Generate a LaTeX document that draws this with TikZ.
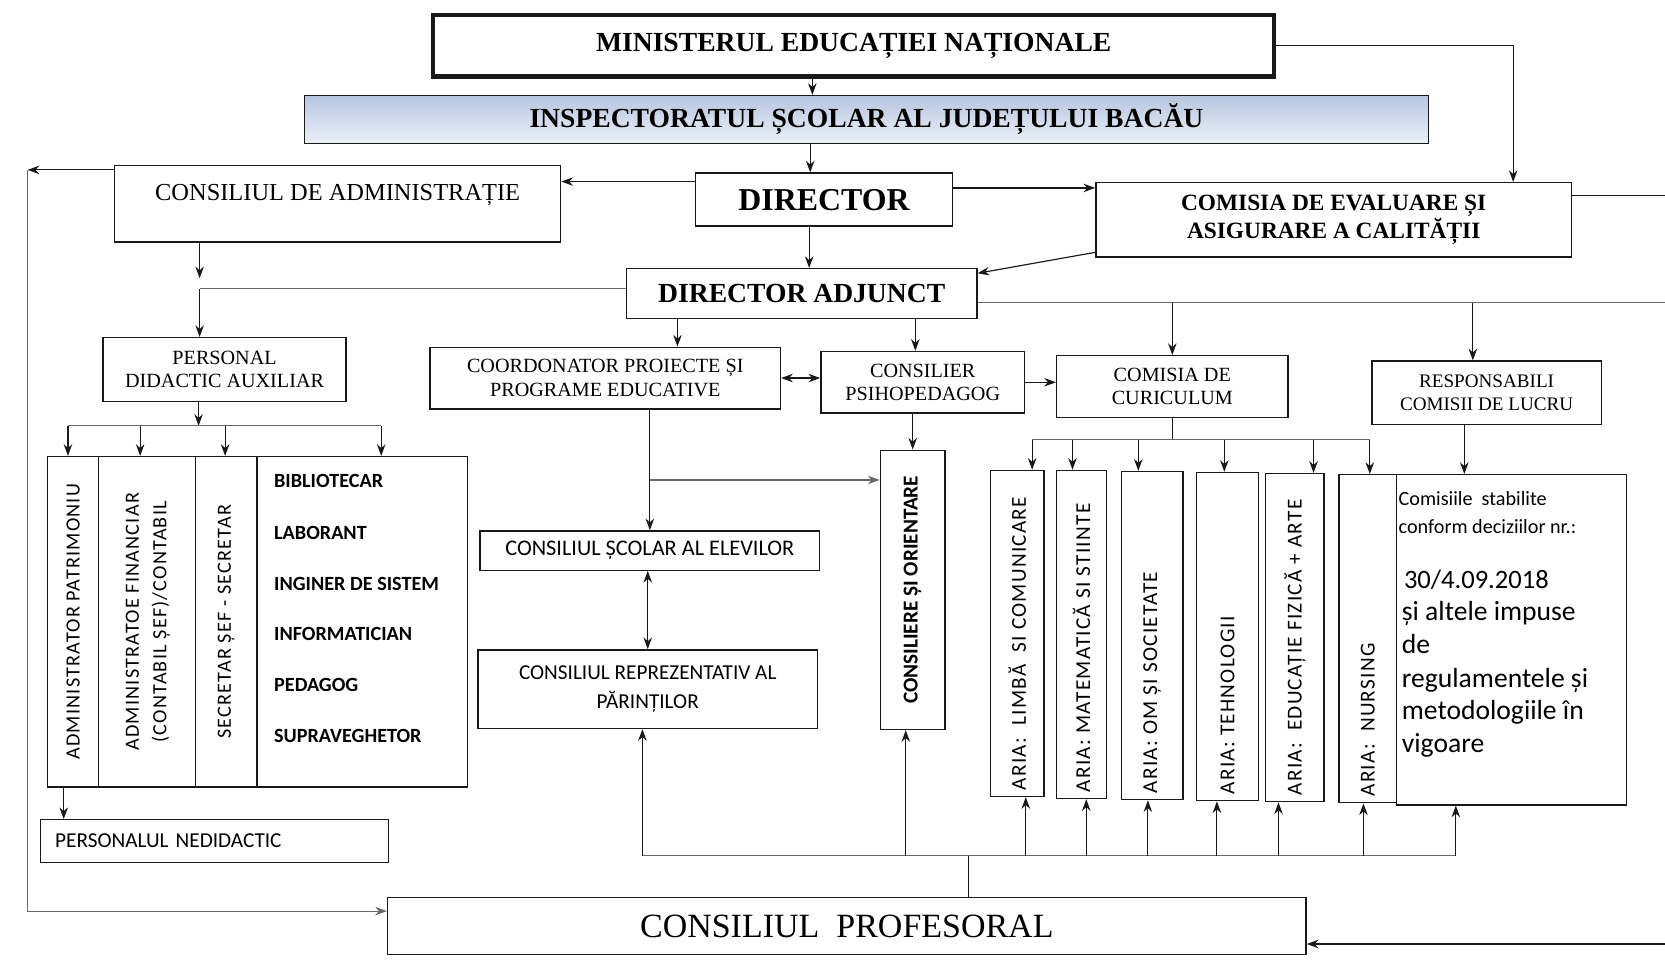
\documentclass[tikz,border=0pt]{standalone}
\usepackage{fontspec}
\setmainfont{Liberation Serif}
\newfontfamily\calfont{Carlito}
\newfontfamily\calsp[LetterSpace=6]{Carlito}
\usepackage{graphicx}
\usetikzlibrary{arrows.meta}
\definecolor{ib1}{RGB}{182,198,222}
\definecolor{ib2}{RGB}{236,241,249}
\definecolor{lnc}{RGB}{25,25,25}
\definecolor{flc}{RGB}{105,105,105}
\tikzset{
  box/.style={draw=lnc, line width=1.3pt, inner sep=2pt, align=center, text=black},
  conn/.style={draw=lnc, line width=1.1pt},
  faint/.style={draw=flc, line width=1.1pt},
  arr/.style={conn, -{Stealth[length=11pt,width=8pt]}},
  darr/.style={conn, {Stealth[length=11pt,width=8pt]}-{Stealth[length=11pt,width=8pt]}},
  ttl/.style={font=\bfseries\fontsize{26}{30}\selectfont},
  sml/.style={font=\fontsize{19}{22}\selectfont},
  vcol/.style={box, inner sep=0pt, font=\calsp\fontsize{19}{26}\selectfont},
  aria/.style={box, inner sep=0pt, font=\calsp\fontsize{20}{24}\selectfont},
  lst/.style={anchor=west, inner sep=0pt, font=\calfont\bfseries\fontsize{19}{22}\selectfont},
  ctx/.style={anchor=base west, inner sep=0pt, font=\calfont\fontsize{26}{30}\selectfont},
}
\begin{document}
\begin{tikzpicture}[x=1pt,y=-1pt]
\useasboundingbox (0,0) rectangle (1568,909);
\fill[white] (0,0) rectangle (1568,909);

% ---------- boxes ----------
\node[box, ttl, line width=4pt, minimum width=792, minimum height=58] (min) at (804,43) {MINISTERUL EDUCAȚIEI NAȚIONALE};
\node[box, ttl, top color=ib1, bottom color=ib2, minimum width=1058, minimum height=45] (insp) at (816,112.5) {INSPECTORATUL ȘCOLAR AL JUDEȚULUI BACĂU};
\node[box, font=\bfseries\fontsize{30}{34}\selectfont, minimum width=242, minimum height=50] (dir) at (776,188) {DIRECTOR};
\node[box, font=\fontsize{23}{27}\selectfont, text height=16, text depth=22, minimum width=420, minimum height=72] (cadm) at (318,192) {CONSILIUL DE ADMINISTRAȚIE};
\node[box, font=\bfseries\fontsize{22}{26}\selectfont, minimum width=448, minimum height=70] (comev) at (1256,207) {COMISIA DE EVALUARE ȘI\\ASIGURARE A CALITĂȚII};
\node[box, ttl, minimum width=330, minimum height=47] (dadj) at (755,276.5) {DIRECTOR ADJUNCT};

\node[box, sml, minimum width=229, minimum height=60] (pda) at (211.5,348) {PERSONAL\\DIDACTIC AUXILIAR};
\node[box, sml, minimum width=330, minimum height=58] (coord) at (570,356) {COORDONATOR PROIECTE ȘI\\PROGRAME EDUCATIVE};
\node[box, sml, minimum width=192, minimum height=58] (cpsi) at (869,360) {CONSILIER\\PSIHOPEDAGOG};
\node[box, sml, minimum width=218, minimum height=58] (ccur) at (1104,364) {COMISIA DE\\CURICULUM};
\node[box, font=\fontsize{18}{22}\selectfont, minimum width=216, minimum height=60] (resp) at (1400,370) {RESPONSABILI\\COMISII DE LUCRU};

% left block
\node[vcol, minimum width=48, minimum height=311] (a1) at (69,585.5) {\rotatebox{90}{ADMINISTRATOR PATRIMONIU}};
\node[vcol, minimum width=91, minimum height=311] (a2) at (138.5,585.5) {\rotatebox{90}{\begin{tabular}{@{}c@{}}ADMINISTRATOE FINANCIAR\\(CONTABIL ȘEF)/CONTABIL\end{tabular}}};
\node[vcol, minimum width=58, minimum height=311] (a3) at (213,585.5) {\rotatebox{90}{SECRETAR ȘEF - SECRETAR}};
\node[box, minimum width=198, minimum height=311] (a4) at (341,585.5) {};
\node[lst] (l1) at (258,453) {BIBLIOTECAR};
\node[lst] (l2) at (258,502) {LABORANT};
\node[lst] (l3) at (258,550) {INGINER DE SISTEM};
\node[lst] (l4) at (258,597) {INFORMATICIAN};
\node[lst] (l5) at (258,645) {PEDAGOG};
\node[lst] (l6) at (258,693) {SUPRAVEGHETOR};
\node[box, font=\calfont\fontsize{20}{24}\selectfont, text width=300, align=left, minimum width=328, minimum height=40] (pned) at (202,792) {PERSONALUL NEDIDACTIC};

% middle
\node[box, font=\calfont\fontsize{21}{25}\selectfont, minimum width=320, minimum height=37] (cse) at (612,518.5) {CONSILIUL ȘCOLAR AL ELEVILOR};
\node[box, font=\calfont\fontsize{20}{27}\selectfont, minimum width=320, minimum height=74] (crp) at (610,649) {CONSILIUL REPREZENTATIV AL\\PĂRINȚILOR};
\node[box, inner sep=0pt, font=\calfont\bfseries\fontsize{20}{24}\selectfont, minimum width=61, minimum height=263] (cso) at (859.5,555.5) {\rotatebox{90}{CONSILIERE ȘI ORIENTARE}};

% arii curriculare
\node[aria, minimum width=50, minimum height=307] (r1) at (958,596.5) {\rotatebox{90}{\makebox[295pt][l]{ARIA:\ \ LIMBĂ\ \ SI COMUNICARE}}};
\node[aria, minimum width=47, minimum height=309] (r2) at (1018.5,597.5) {\rotatebox{90}{\makebox[297pt][l]{ARIA:\ MATEMATICĂ\ SI\ STIINTE}}};
\node[aria, minimum width=58, minimum height=309] (r3) at (1085,598.5) {\rotatebox{90}{\makebox[297pt][l]{ARIA:\ OM ȘI SOCIETATE}}};
\node[aria, minimum width=58, minimum height=309] (r4) at (1156,599.5) {\rotatebox{90}{\makebox[297pt][l]{ARIA:\ TEHNOLOGII}}};
\node[aria, minimum width=55, minimum height=309] (r5) at (1219.5,600.5) {\rotatebox{90}{\makebox[297pt][l]{ARIA:\ \ EDUCAȚIE FIZICĂ + ARTE}}};
\node[aria, minimum width=54, minimum height=309] (r6) at (1288,601.5) {\rotatebox{90}{\makebox[297pt][l]{ARIA:\ \ NURSING}}};
\node[box, minimum width=217, minimum height=311] (cm) at (1423.5,602.5) {};
\node[ctx, font=\calfont\fontsize{19}{22}\selectfont] (c1) at (1317,476) {Comisiile\ \ stabilite};
\node[ctx, font=\calfont\fontsize{19}{22}\selectfont] (c2) at (1317,502) {conform deciziilor nr.:};
\node[ctx, font=\calfont\fontsize{25}{30}\selectfont] (c3) at (1322,554) {30/4.09.2018};
\node[ctx] (c4) at (1320,584) {și altele impuse};
\node[ctx] (c5) at (1320,615) {de};
\node[ctx] (c6) at (1320,647) {regulamentele și};
\node[ctx] (c7) at (1320,678) {metodologiile în};
\node[ctx] (c8) at (1320,709) {vigoare};

\node[box, font=\fontsize{32}{36}\selectfont, minimum width=865, minimum height=54] (cprof) at (797.5,872) {CONSILIUL\ \ PROFESORAL};

% ---------- connectors ----------
\coordinate (k1) at ([xshift=-39]min.south);
\draw[arr] (k1) -- (k1 |- insp.north);
\coordinate (k2) at ([xshift=-13]dir.north);
\draw[arr] (k2 |- insp.south) -- (k2);
\coordinate (k3) at ([yshift=17]dir.west);
\draw[arr] (k3) -- (k3 -| cadm.east);
\coordinate (lt) at (26,160);
\draw[arr] ([yshift=32]cadm.west) -- (lt);
\draw[arr, faint] (lt) |- ([yshift=14]cprof.west);
\coordinate (k4) at ([yshift=11]dir.east);
\draw[arr] (k4) -- (k4 -| comev.west);
\coordinate (k5) at ([xshift=169]comev.north);
\draw[arr] (min.east) -| (k5);
\coordinate (e1) at (1568,184);
\draw[conn] (e1 -| comev.east) -- (e1);
\coordinate (k6) at ([xshift=-14]dir.south);
\draw[arr] (k6) -- (k6 |- dadj.north);
\draw[arr] ([yshift=5]comev.south west) -- ([yshift=-5]dadj.north east);
\coordinate (jl) at (188,272);
\draw[faint] (jl -| dadj.west) -- (jl);
\draw[arr] (jl |- cadm.south) -- ([yshift=10]jl);
\draw[arr] (jl) -- (jl |- pda.north);
\coordinate (hr) at (1568,285);
\draw[faint] (hr -| dadj.east) -- (hr);
\coordinate (k7) at ([xshift=-13]resp.north);
\draw[arr] (k7 |- hr) -- (k7);
\draw[arr] (ccur.north |- hr) -- (ccur.north);
\coordinate (k8) at ([xshift=-117]dadj.south);
\draw[arr] (k8) -- (k8 |- coord.north);
\coordinate (k9) at ([xshift=-7]cpsi.north);
\draw[arr] (k9 |- dadj.south) -- (k9);
\draw[darr] (coord.east) -- (coord.east -| cpsi.west);
\draw[arr] (cpsi.east) -- (cpsi.east -| ccur.west);
\draw[arr] (cso.north |- cpsi.south) -- (cso.north);
\draw[arr] (cse.north |- coord.south) -- (cse.north);
\coordinate (k10) at (612,452);
\draw[arr, faint] (k10) -- (k10 -| cso.west);
\draw[darr] (crp.north |- cse.south) -- (crp.north);

% personal didactic auxiliar distribution
\coordinate (d0) at (187,401);
\draw[arr] (d0 |- pda.south) -- (d0);
\coordinate (h1) at (64,401);
\coordinate (h2) at (132,401);
\coordinate (h3) at (212,401);
\coordinate (h4) at (359,401);
\draw[faint] (h1) -- (h4);
\draw[arr] (h1) -- (h1 |- a1.north);
\draw[arr] (h2) -- (h2 |- a2.north);
\draw[arr] (h3) -- (h3 |- a3.north);
\draw[arr] (h4) -- (h4 |- a4.north);
\coordinate (k11) at ([xshift=-9]a1.south);
\draw[arr] (k11) -- (k11 |- pned.north);

% curriculum distribution
\coordinate (t1) at (972,414);
\coordinate (t2) at (1010,414);
\coordinate (t3) at (1072,414);
\coordinate (t4) at (1153,414);
\coordinate (t5) at (1237,414);
\coordinate (t6) at (1290,414);
\draw[conn] (ccur.south) -- (ccur.south |- t1);
\draw[faint] (t1) -- (t6);
\draw[arr] (t1) -- (t1 |- r1.north);
\draw[arr] (t2) -- (t2 |- r2.north);
\draw[arr] (t3) -- (t3 |- r3.north);
\draw[arr] (t4) -- (t4 |- r4.north);
\draw[arr] (t5) -- (t5 |- r5.north);
\draw[arr] (t6) -- (t6 |- r6.north);
\coordinate (k12) at ([xshift=-21]resp.south);
\draw[arr] (k12) -- (k12 |- cm.north);

% consiliul profesoral distribution
\coordinate (b0) at (912,806);
\draw[conn] (b0 |- cprof.north) -- (b0);
\coordinate (bl) at (605,806);
\coordinate (br) at (1371,806);
\draw[faint] (bl) -- (br);
\draw[arr] (bl) -- (bl |- crp.south);
\coordinate (u1) at (853,806);
\coordinate (u2) at (966,806);
\coordinate (u3) at (1023,806);
\coordinate (u4) at (1081,806);
\coordinate (u5) at (1146,806);
\coordinate (u6) at (1204,806);
\coordinate (u7) at (1284,806);
\draw[arr] (u1) -- (u1 |- cso.south);
\draw[arr] (u2) -- (u2 |- r1.south);
\draw[arr] (u3) -- (u3 |- r2.south);
\draw[arr] (u4) -- (u4 |- r3.south);
\draw[arr] (u5) -- (u5 |- r4.south);
\draw[arr] (u6) -- (u6 |- r5.south);
\draw[arr] (u7) -- (u7 |- r6.south);
\draw[arr] (br) -- (br |- cm.south);
\coordinate (e3) at (1568,889);
\draw[arr] (e3) -- (e3 -| cprof.east);
\end{tikzpicture}
\end{document}
